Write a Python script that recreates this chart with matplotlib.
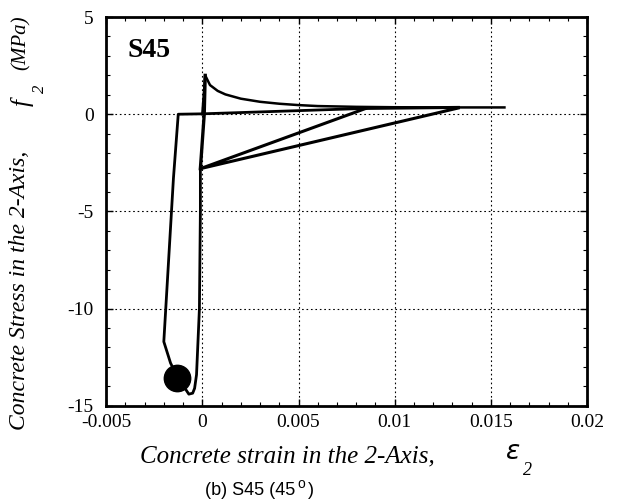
import numpy as np
import matplotlib.pyplot as plt
from matplotlib.ticker import MultipleLocator

# tension branch: peak then softening
ten_x = [0.0, 0.00015, 0.0004, 0.0008, 0.0012, 0.002, 0.003, 0.004, 0.005, 0.006,
         0.008, 0.010, 0.013, 0.0157]
ten_y = [0.0, 2.0, 1.5, 1.2, 1.02, 0.8, 0.64, 0.54, 0.47, 0.42, 0.38, 0.36, 0.35, 0.35]

# unload / reload cycles
cyc_x = [0.0133, -0.0001, 0.0085, 0.0133]
cyc_y = [0.32, -2.8, 0.30, 0.35]

# compression branch
comp_x = [-0.0001, -0.0001, -0.00015, -0.0003, -0.0004, -0.0005, -0.0007, -0.0009,
          -0.0013, -0.00165, -0.002, -0.0015, -0.00125, 0.0, 0.0085]
comp_y = [-2.8, -5.0, -10.0, -13.4, -14.1, -14.35, -14.4, -14.1,
          -13.5, -12.8, -11.7, -3.3, 0.0, 0.02, 0.3]

peak_x = [0.00015, 0.0001, -0.0001]
peak_y = [2.0, 0.0, -2.8]

fail_x = [-0.0013]
fail_y = [-13.55]

plt.rcParams['font.family'] = ['Liberation Serif', 'DejaVu Serif']
plt.rcParams['axes.unicode_minus'] = False

fig = plt.figure(figsize=(6.24, 5.01), dpi=100)
ax = fig.add_axes([0.170, 0.190, 0.771, 0.776])

ax.plot(ten_x, ten_y, color='black', lw=1.8)
ax.plot(cyc_x, cyc_y, color='black', lw=2.2)
ax.plot(comp_x, comp_y, color='black', lw=2.0)
ax.plot(peak_x, peak_y, color='black', lw=2.4)
ax.plot(fail_x, fail_y, 'o', color='black', markersize=19)

ax.set_xlim(-0.005, 0.02)
ax.set_ylim(-15, 5)
ax.set_xticks([-0.005, 0, 0.005, 0.01, 0.015, 0.02])
ax.set_xticklabels(['-0.005', '0', '0.005', '0.01', '0.015', '0.02'])
ax.set_yticks([-15, -10, -5, 0, 5])
ax.xaxis.set_minor_locator(MultipleLocator(0.001))
ax.yaxis.set_minor_locator(MultipleLocator(1))
ax.tick_params(which='both', direction='in', top=True, right=True, labelsize=14)
ax.tick_params(axis='y', pad=9)
ax.tick_params(axis='x', pad=6)
ax.tick_params(which='major', length=5, width=1)
ax.tick_params(which='minor', length=3, width=0.8)
ax.grid(True, which='major', linestyle=(0, (1.5, 2.5)), color='black', lw=0.8)
for s in ax.spines.values():
    s.set_linewidth(2)

ax.text(0.045, 0.897, 'S45', transform=ax.transAxes, fontsize=20, fontweight='bold')

fig.text(0.46, 0.088, 'Concrete strain in the 2-Axis,', fontsize=18, style='italic',
         ha='center', va='center')
fig.text(0.822, 0.095, r'$\epsilon$', fontsize=19, ha='center', va='center')
fig.text(0.845, 0.061, '2', fontsize=13, style='italic', ha='center', va='center')

cap = fig.text(0.328, 0.021, '(b) S45 (45', fontsize=13, family='Liberation Sans',
               ha='left', va='center')
fig.canvas.draw()
bb = cap.get_window_extent().transformed(fig.transFigure.inverted())
fig.text(bb.x1 + 0.004, 0.034, 'o', fontsize=10, family='Liberation Sans',
         ha='left', va='center')
fig.text(bb.x1 + 0.021, 0.021, ')', fontsize=13, family='Liberation Sans',
         ha='left', va='center')

fig.text(0.032, 0.42, 'Concrete Stress in the 2-Axis,', fontsize=17, style='italic',
         rotation=90, ha='center', va='center')
fig.text(0.036, 0.795, 'f', fontsize=18, style='italic', rotation=90, ha='center', va='center')
fig.text(0.064, 0.822, '2', fontsize=12, style='italic', rotation=90, ha='center', va='center')
fig.text(0.034, 0.915, '(MPa)', fontsize=15, style='italic', rotation=90,
         ha='center', va='center')

fig.savefig('out.png', dpi=100)
